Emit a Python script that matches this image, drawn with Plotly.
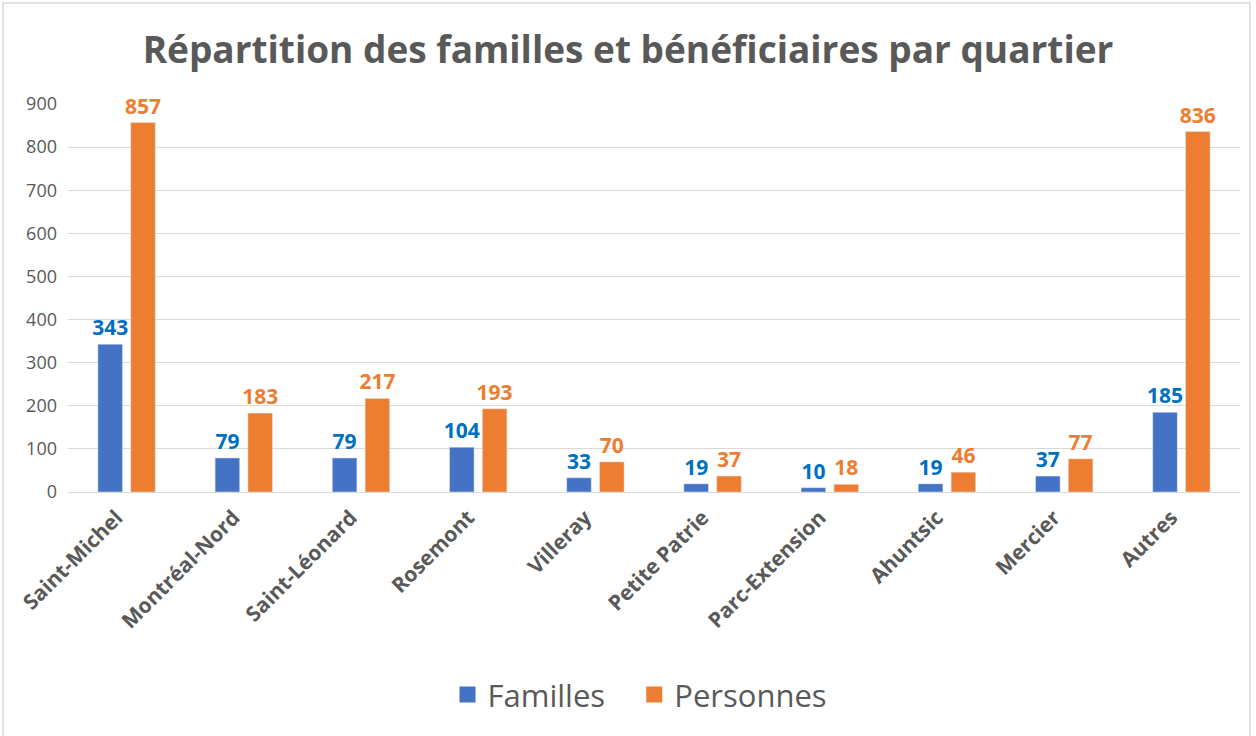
import plotly.graph_objects as go

quartiers = ["Saint-Michel", "Montréal-Nord", "Saint-Léonard", "Rosemont", "Villeray",
             "Petite Patrie", "Parc-Extension", "Ahuntsic", "Mercier", "Autres"]
familles = [343, 79, 79, 104, 33, 19, 10, 19, 37, 185]
personnes = [857, 183, 217, 193, 70, 37, 18, 46, 77, 836]
y_ticks = [0, 100, 200, 300, 400, 500, 600, 700, 800, 900]

FONT = "Open Sans"
GRAY = "#595959"
BLUE = "#4472C4"
ORANGE = "#ED7D31"

fig = go.Figure()
fig.add_trace(go.Bar(
    x=quartiers, y=familles, name="Familles", showlegend=False,
    marker=dict(color=BLUE),
    text=familles, textposition="outside", cliponaxis=False, constraintext="none",
    textfont=dict(family=FONT, size=21, color="#0070C0", weight="bold"),
))
fig.add_trace(go.Bar(
    x=quartiers, y=personnes, name="Personnes", showlegend=False,
    marker=dict(color=ORANGE),
    text=personnes, textposition="outside", cliponaxis=False, constraintext="none",
    textfont=dict(family=FONT, size=21, color=ORANGE, weight="bold"),
))
# legend proxies (square swatches)
for nm, col in [("Familles   ", BLUE), ("Personnes", ORANGE)]:
    fig.add_trace(go.Scatter(x=[None], y=[None], mode="markers", name=nm,
                             marker=dict(symbol="square", size=18, color=col)))

fig.update_layout(
    width=1256, height=736,
    paper_bgcolor="white", plot_bgcolor="white",
    margin=dict(l=68, r=16, t=104, b=244),
    title=dict(text="<b>Répartition des familles et bénéficiaires par quartier</b>",
               x=0.5, xanchor="center", y=0.932, yanchor="middle",
               font=dict(family=FONT, size=37, color=GRAY)),
    barmode="group", bargap=0.44, bargroupgap=0.25,
    showlegend=True,
    legend=dict(orientation="h", x=(640 - 68) / 1172, xanchor="center", y=-0.523, yanchor="middle",
                font=dict(family=FONT, size=31, color=GRAY), itemwidth=30,
                traceorder="normal"),
    xaxis=dict(tickangle=-45, tickfont=dict(family=FONT, size=21, color=GRAY, weight="bold"),
               showline=True, linecolor="#D9D9D9", linewidth=1, ticks="",
               ticklabelstandoff=4, ticklabelshift=-10),
    yaxis=dict(range=[0, 900], tickvals=y_ticks, showgrid=True, gridcolor="#D9D9D9",
               tickfont=dict(family=FONT, size=18, color=GRAY), zeroline=False,
               ticks="", ticklabelstandoff=10),
    shapes=[dict(type="rect", xref="paper", yref="paper",
                 x0=(3 - 68) / 1172, x1=(1250 - 68) / 1172,
                 y0=(492 - 745) / 388, y1=(492 - 3) / 388,
                 line=dict(color="#D9D9D9", width=1.5))],
)

fig.write_html("out.html", config={"displayModeBar": False},
               post_script="document.body.style.margin='0';")
